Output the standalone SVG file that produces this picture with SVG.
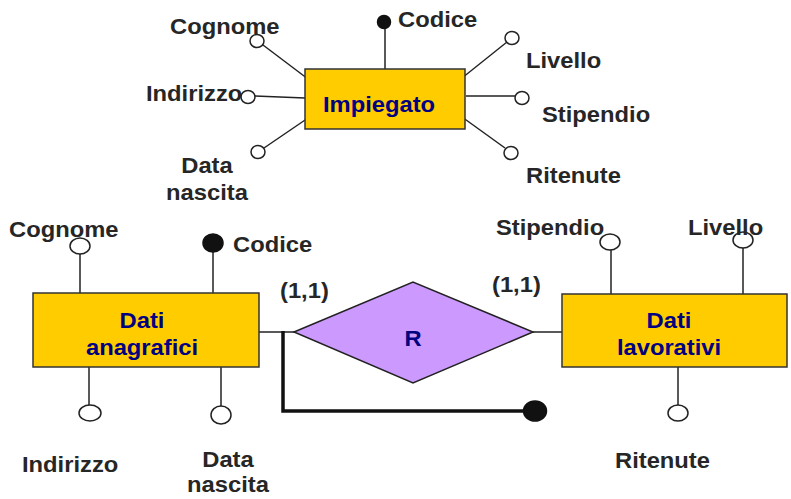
<svg xmlns="http://www.w3.org/2000/svg" width="791" height="499" viewBox="0 0 791 499">
  <style>
    .bg { fill: #ffffff; }
    .entity { fill: #FFCC00; stroke: #333333; stroke-width: 1.5; }
    .rel { fill: #CC99FF; stroke: #222222; stroke-width: 1.5; }
    .ln { stroke: #222222; stroke-width: 1.5; fill: none; }
    .thick { stroke: #111111; stroke-width: 3.5; fill: none; stroke-linejoin: miter; }
    .attr { fill: #ffffff; stroke: #222222; stroke-width: 1.5; }
    .key { fill: #111111; stroke: #111111; stroke-width: 1.5; }
    .lbl { font-family: "Liberation Sans", Arial, sans-serif; font-weight: bold; font-size: 22px; fill: #262626; }
    .name { font-family: "Liberation Sans", Arial, sans-serif; font-weight: bold; font-size: 22px; fill: #000080; text-anchor: middle; }
    .mid { text-anchor: middle; }
  </style>
  <rect class="bg" x="0" y="0" width="791" height="499"/>

  <!-- connectors: attribute stems and relationship links -->
  <g id="connectors">
    <!-- Impiegato attributes -->
    <line class="ln" x1="263" y1="45" x2="308" y2="79"/>
    <line class="ln" x1="255" y1="96" x2="305" y2="98"/>
    <line class="ln" x1="264" y1="148" x2="308" y2="118"/>
    <line class="ln" x1="385" y1="28" x2="385" y2="69"/>
    <line class="ln" x1="462" y1="78" x2="507" y2="42"/>
    <line class="ln" x1="466" y1="96" x2="515" y2="96"/>
    <line class="ln" x1="462" y1="117" x2="505" y2="148"/>
    <!-- Dati anagrafici attributes -->
    <line class="ln" x1="80" y1="254" x2="80" y2="293"/>
    <line class="ln" x1="213" y1="252" x2="213" y2="293"/>
    <line class="ln" x1="89" y1="367" x2="89" y2="405"/>
    <line class="ln" x1="221" y1="367" x2="221" y2="406"/>
    <!-- Dati lavorativi attributes -->
    <line class="ln" x1="611" y1="250" x2="611" y2="294"/>
    <line class="ln" x1="743" y1="248" x2="743" y2="294"/>
    <line class="ln" x1="678" y1="367" x2="678" y2="405"/>
    <!-- relationship links -->
    <line class="ln" x1="259" y1="332" x2="294" y2="332"/>
    <line class="ln" x1="533" y1="332" x2="562" y2="332"/>
    <!-- composite identifier -->
    <polyline class="thick" points="283,331 283,411 530,411"/>
  </g>

  <!-- Impiegato -->
  <g id="impiegato">
    <rect class="entity" x="305" y="69" width="160" height="60"/>
    <text class="name" transform="translate(379,112) scale(1.08,1)">Impiegato</text>
  </g>
  <g id="imp-cognome">
    <ellipse class="attr" cx="257" cy="41" rx="7" ry="6.5"/>
    <text class="lbl" transform="translate(170,34) scale(1.08,1)">Cognome</text>
  </g>
  <g id="imp-indirizzo">
    <ellipse class="attr" cx="248" cy="97" rx="7" ry="6.5"/>
    <text class="lbl" transform="translate(146,101) scale(1.08,1)">Indirizzo</text>
  </g>
  <g id="imp-data">
    <ellipse class="attr" cx="258" cy="152" rx="7" ry="6.5"/>
    <text class="lbl mid" transform="translate(207,173) scale(1.08,1)">Data</text>
    <text class="lbl mid" transform="translate(207,200) scale(1.08,1)">nascita</text>
  </g>
  <g id="imp-codice">
    <ellipse class="key" cx="384" cy="22" rx="6.5" ry="6.5"/>
    <text class="lbl" transform="translate(398,27) scale(1.08,1)">Codice</text>
  </g>
  <g id="imp-livello">
    <ellipse class="attr" cx="512" cy="38" rx="7" ry="6.5"/>
    <text class="lbl" transform="translate(526,68) scale(1.08,1)">Livello</text>
  </g>
  <g id="imp-stipendio">
    <ellipse class="attr" cx="522" cy="98" rx="7" ry="6.5"/>
    <text class="lbl" transform="translate(542,122) scale(1.08,1)">Stipendio</text>
  </g>
  <g id="imp-ritenute">
    <ellipse class="attr" cx="511" cy="153" rx="7" ry="6.5"/>
    <text class="lbl" transform="translate(526,183) scale(1.08,1)">Ritenute</text>
  </g>

  <!-- Dati anagrafici -->
  <g id="dati-anagrafici">
    <rect class="entity" x="33" y="293" width="226" height="74"/>
    <text class="name" transform="translate(142,328) scale(1.08,1)">Dati</text>
    <text class="name" transform="translate(142,355) scale(1.08,1)">anagrafici</text>
  </g>
  <g id="ana-cognome">
    <ellipse class="attr" cx="80" cy="246" rx="10" ry="8"/>
    <text class="lbl" transform="translate(9,237) scale(1.08,1)">Cognome</text>
  </g>
  <g id="ana-codice">
    <ellipse class="key" cx="213" cy="243" rx="10" ry="9"/>
    <text class="lbl" transform="translate(233,252) scale(1.08,1)">Codice</text>
  </g>
  <g id="ana-indirizzo">
    <ellipse class="attr" cx="90" cy="413" rx="11" ry="8"/>
    <text class="lbl" transform="translate(22,472) scale(1.08,1)">Indirizzo</text>
  </g>
  <g id="ana-data">
    <ellipse class="attr" cx="221" cy="415" rx="10" ry="9"/>
    <text class="lbl mid" transform="translate(228,467) scale(1.08,1)">Data</text>
    <text class="lbl mid" transform="translate(228,492) scale(1.08,1)">nascita</text>
  </g>

  <!-- Relationship R -->
  <g id="rel-r">
    <polygon class="rel" points="294,332 413,282 533,332 413,383"/>
    <text class="name" transform="translate(413,346) scale(1.08,1)">R</text>
  </g>
  <g id="card-left">
    <text class="lbl" transform="translate(280,298) scale(1.08,1)">(1,1)</text>
  </g>
  <g id="card-right">
    <text class="lbl" transform="translate(492,292) scale(1.08,1)">(1,1)</text>
  </g>
  <g id="external-id">
    <ellipse class="key" cx="535" cy="411" rx="11.5" ry="10" fill="#222222"/>
  </g>

  <!-- Dati lavorativi -->
  <g id="dati-lavorativi">
    <rect class="entity" x="562" y="294" width="225" height="73"/>
    <text class="name" transform="translate(669,328) scale(1.08,1)">Dati</text>
    <text class="name" transform="translate(669,355) scale(1.08,1)">lavorativi</text>
  </g>
  <g id="lav-stipendio">
    <ellipse class="attr" cx="610" cy="242" rx="10" ry="8"/>
    <text class="lbl" transform="translate(496,235) scale(1.08,1)">Stipendio</text>
  </g>
  <g id="lav-livello">
    <ellipse class="attr" cx="743" cy="240" rx="10" ry="8"/>
    <text class="lbl" transform="translate(688,235) scale(1.08,1)">Livello</text>
  </g>
  <g id="lav-ritenute">
    <ellipse class="attr" cx="678" cy="413" rx="10" ry="8"/>
    <text class="lbl" transform="translate(615,468) scale(1.08,1)">Ritenute</text>
  </g>
</svg>
